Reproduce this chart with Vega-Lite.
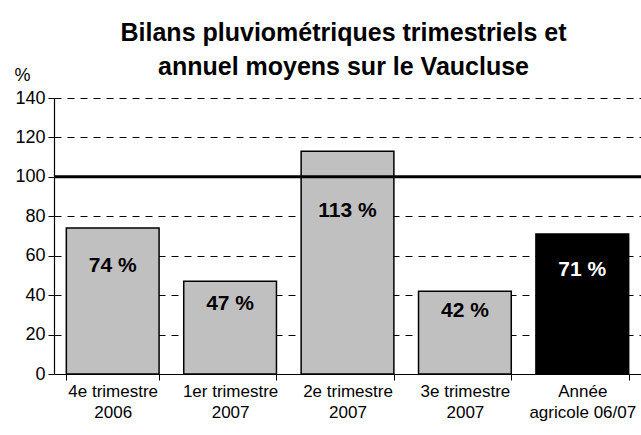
{
  "$schema": "https://vega.github.io/schema/vega-lite/v6.json",
  "autosize": "none",
  "width": 587,
  "height": 276,
  "padding": {"left": 54, "top": 98, "right": 0, "bottom": 61},
  "background": "white",
  "config": {
    "font": "Liberation Sans",
    "view": {"stroke": null},
    "axisY": {
      "values": [0, 20, 40, 60, 80, 100, 120, 140],
      "title": "%",
      "titleAngle": 0,
      "titleX": -32,
      "titleY": -14,
      "titleAlign": "center",
      "titleFontSize": 18,
      "titleFontWeight": "normal",
      "titleColor": "black",
      "titleFont": "Liberation Sans",
      "labelFontSize": 18,
      "labelColor": "black",
      "labelPadding": 3,
      "tickSize": 6,
      "tickColor": "black",
      "domainColor": "black",
      "domainWidth": 1.2,
      "grid": true,
      "gridColor": "black",
      "gridDash": [7, 6],
      "gridWidth": 1,
      "labelFont": "Liberation Sans"
    }
  },
  "title": {
    "text": ["Bilans pluviométriques trimestriels et", "annuel moyens sur le Vaucluse"],
    "fontSize": 25,
    "fontWeight": "bold",
    "font": "Liberation Sans",
    "color": "black",
    "lineHeight": 34,
    "anchor": "middle",
    "dx": -4,
    "offset": -14
  },
  "data": {
    "values": [
      {"periode": "4e trimestre|2006", "valeur": 74, "type": "trimestre"},
      {"periode": "1er trimestre|2007", "valeur": 47, "type": "trimestre"},
      {"periode": "2e trimestre|2007", "valeur": 113, "type": "trimestre"},
      {"periode": "3e trimestre|2007", "valeur": 42, "type": "trimestre"},
      {"periode": "Année|agricole 06/07", "valeur": 71, "type": "annee"}
    ]
  },
  "encoding": {
    "x": {
      "field": "periode",
      "type": "nominal",
      "sort": null,
      "scale": {"paddingInner": 0.21, "paddingOuter": 0.105},
      "axis": {
        "title": null,
        "labelAngle": 0,
        "labelExpr": "split(datum.label, '|')",
        "labelFontSize": 17,
        "labelLineHeight": 21,
        "labelColor": "black",
        "labelPadding": 3,
        "tickBand": "extent",
        "tickSize": 6,
        "tickColor": "black",
        "domainColor": "black",
        "domainWidth": 1.2,
        "labelFont": "Liberation Sans"
      }
    }
  },
  "layer": [
    {
      "mark": {"type": "bar", "stroke": "black", "strokeWidth": 1.5},
      "encoding": {
        "y": {
          "field": "valeur",
          "type": "quantitative",
          "scale": {"domain": [0, 140]},
          "title": "%"
        },
        "fill": {
          "field": "type",
          "type": "nominal",
          "scale": {"domain": ["trimestre", "annee"], "range": ["#c0c0c0", "#000000"]},
          "legend": null
        }
      }
    },
    {
      "data": {"values": [{"ref": 100}]},
      "mark": {"type": "rule", "stroke": "black", "strokeWidth": 3},
      "encoding": {
        "x": null,
        "y": {"field": "ref", "type": "quantitative", "title": "%"}
      }
    },
    {
      "transform": [
        {"calculate": "datum.valeur * 0.72", "as": "pos"},
        {"calculate": "datum.valeur + ' %'", "as": "etiquette"}
      ],
      "mark": {"type": "text", "fontSize": 21, "fontWeight": "bold", "font": "Liberation Sans", "baseline": "middle", "dy": -3},
      "encoding": {
        "y": {"field": "pos", "type": "quantitative", "title": "%"},
        "text": {"field": "etiquette", "type": "nominal"},
        "color": {
          "field": "type",
          "type": "nominal",
          "scale": {"domain": ["trimestre", "annee"], "range": ["#000000", "#ffffff"]},
          "legend": null
        }
      }
    }
  ]
}
